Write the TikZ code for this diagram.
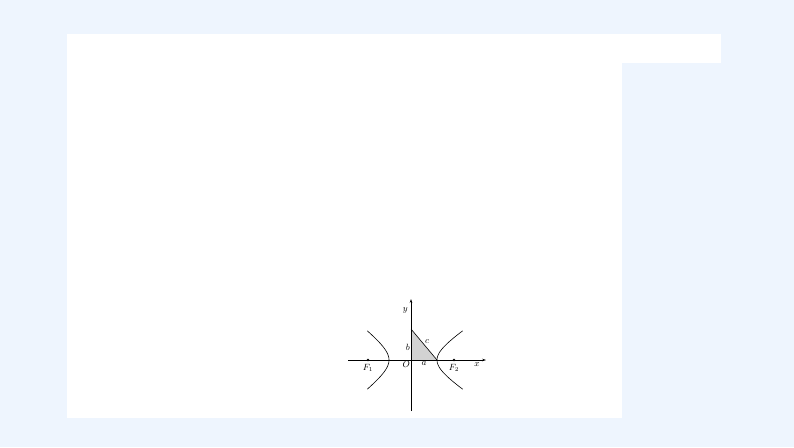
\documentclass[tikz,border=0pt]{standalone}
\usetikzlibrary{arrows.meta,positioning}
\definecolor{pagebg}{HTML}{EEF5FE}

\begin{document}
\begin{tikzpicture}[x=1pt, y=-1pt, font=\small, node distance=1pt,
    axis/.style={-{Stealth[length=4pt,width=2.6pt]}, line width=0.6pt},
    branch/.style={line width=0.6pt},
    focus/.style={circle, fill, inner sep=0pt, minimum size=2.8pt},
    lbl/.style={inner sep=1pt}]
  \fill[pagebg] (0,0) rectangle (794,447);
  \useasboundingbox (0,0) rectangle (794,447);
  \fill[white] (67,34) rectangle (622,418);
  \fill[white] (622,34) rectangle (721,63);
  % axes and triangle
  \coordinate (O) at (411,360);
  \coordinate (xl) at (348,360);
  \coordinate (xr) at (486,360);
  \coordinate (yb) at (411,411);
  \coordinate (yt) at (411,299);
  \coordinate (A) at (437,360);
  \coordinate (B) at (411,329);
  \fill[gray!35] (O) -- (A) -- (B) -- cycle;
  \draw[line width=0.6pt] (A) -- (B);
  \draw[axis] (xl) -- (xr);
  \draw[axis] (yb) -- (yt);
  % branches
  \draw[branch, shift={(O)}] plot[domain=-1.31:1.31, smooth, samples=30]
    ({26*cosh(\x)}, {17*sinh(\x)});
  \draw[branch, shift={(O)}] plot[domain=-1.31:1.31, smooth, samples=30]
    ({-22*cosh(\x)}, {17*sinh(\x)});
  \node[focus] (F1) at (368,360) {};
  \node[focus] (F2) at (454,360) {};
  % labels
  \node[lbl, below=2pt of F1] {$F_1$};
  \node[lbl, below=2pt of F2] {$F_2$};
  \node[lbl, anchor=north east] at (O) {$O$};
  \node[lbl, anchor=north] at (424,360) {$a$};
  \node[lbl, anchor=east] at (411,347) {$b$};
  \node[lbl, anchor=south west] at (424,345) {$c$};
  \node[lbl, anchor=east] at (409,310) {$y$};
  \node[lbl, anchor=north] at (477,361) {$x$};
\end{tikzpicture}
\end{document}
